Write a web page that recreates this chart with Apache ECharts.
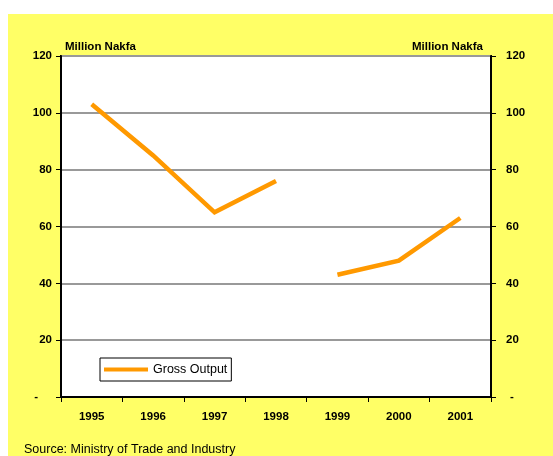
<!DOCTYPE html>
<html>
<head>
<meta charset="utf-8">
<script src="https://cdn.jsdelivr.net/npm/echarts@6/dist/echarts.min.js"></script>
<style>
  html, body { margin: 0; padding: 0; background: #ffffff; }
  #wrap { position: relative; width: 553px; height: 456px; overflow: hidden; }
  #panel { position: absolute; left: 8px; top: 14px; right: 0; bottom: 0; background: #ffff66; }
  #chart { position: absolute; left: 0; top: 0; width: 553px; height: 456px; }
</style>
</head>
<body>
<div id="wrap">
  <div id="panel"></div>
  <div id="chart"></div>
</div>
<script>
// Gross output, million Nakfa, by year
const years = ['1995', '1996', '1997', '1998', '1999', '2000', '2001'];
// The series breaks between 1998 and 1999, so it is drawn in two runs
const outputEarly = [103, 85, 65, 76, null, null, null];
const outputLate = [null, null, null, null, 43, 48, 63];
const seriesName = 'Gross Output';
const unitLabel = 'Million Nakfa';
const sourceNote = 'Source: Ministry of Trade and Industry';

const FONT = '"Liberation Sans", Arial, sans-serif';
const ORANGE = '#ff9900';

const chart = echarts.init(document.getElementById('chart'), null, { renderer: 'canvas' });

function yAxisDef(position, zeroPad, margin) {
  return {
    type: 'value',
    position: position,
    min: 0,
    max: 120,
    interval: 20,
    axisLine: { show: true, lineStyle: { color: '#000', width: 2 } },
    axisTick: { show: true, length: 5, lineStyle: { color: '#000', width: 1 } },
    axisLabel: {
      margin: margin,
      color: '#000',
      fontFamily: FONT,
      fontSize: 11.5,
      fontWeight: 'bold',
      formatter: function (v) { return v === 0 ? '{z|-}' : String(v); },
      rich: { z: { padding: zeroPad, fontFamily: FONT, fontSize: 11.5, fontWeight: 'bold', color: '#000' } }
    },
    splitLine: { show: position === 'left', lineStyle: { color: '#999', width: 2 } }
  };
}

chart.setOption({
  backgroundColor: 'transparent',
  animation: false,
  grid: {
    left: 61, right: 62, top: 56, bottom: 59,
    show: true, backgroundColor: '#ffffff', borderColor: '#000', borderWidth: 2
  },
  legend: {
    data: [seriesName],
    left: 100,
    top: 358,
    orient: 'horizontal',
    backgroundColor: '#ffffff',
    borderColor: '#000',
    borderWidth: 1,
    borderRadius: 0,
    padding: [5, 4, 5, 4],
    icon: 'rect',
    itemWidth: 44,
    itemHeight: 4,
    itemGap: 5,
    textStyle: { color: '#000', fontFamily: FONT, fontSize: 12.5 }
  },
  xAxis: {
    type: 'category',
    data: years,
    boundaryGap: true,
    axisLine: { show: true, lineStyle: { color: '#000', width: 2 } },
    axisTick: { show: true, length: 5, alignWithLabel: false, lineStyle: { color: '#000', width: 1 } },
    axisLabel: { margin: 14, color: '#000', fontFamily: FONT, fontSize: 11.5, fontWeight: 'bold' },
    splitLine: { show: false }
  },
  yAxis: [
    yAxisDef('left', [0, 14, 0, 0], 9),
    yAxisDef('right', [0, 0, 0, 4], 15)
  ],
  graphic: [
    { type: 'text', left: 65, top: 41, style: { text: unitLabel, fill: '#000', font: 'bold 11.5px ' + FONT } },
    { type: 'text', left: 412, top: 41, style: { text: unitLabel, fill: '#000', font: 'bold 11.5px ' + FONT } },
    { type: 'text', left: 24, top: 443, style: { text: sourceNote, fill: '#000', font: '12.5px ' + FONT } }
  ],
  series: [
    {
      name: seriesName, type: 'line', data: outputEarly, yAxisIndex: 0,
      connectNulls: false, showSymbol: false, symbol: 'none',
      lineStyle: { color: ORANGE, width: 4.5, join: 'miter' }, itemStyle: { color: ORANGE }
    },
    {
      name: seriesName, type: 'line', data: outputLate, yAxisIndex: 0,
      connectNulls: false, showSymbol: false, symbol: 'none',
      lineStyle: { color: ORANGE, width: 4.5, join: 'miter' }, itemStyle: { color: ORANGE }
    }
  ]
});
</script>
</body>
</html>
